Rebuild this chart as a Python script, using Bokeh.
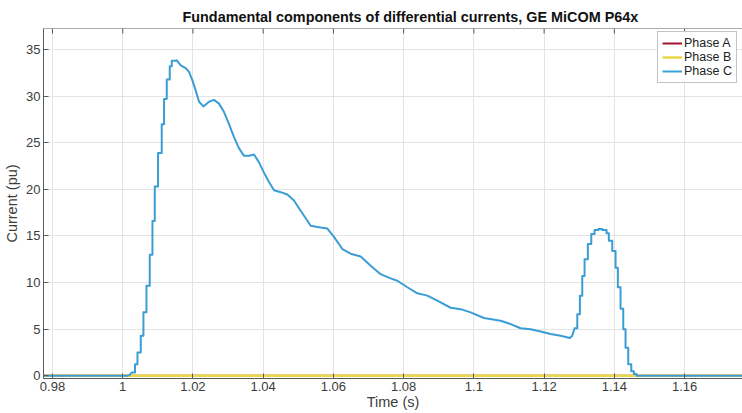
from bokeh.plotting import figure
from bokeh.models import Range1d, FixedTicker, LinearAxis, Legend, LegendItem, Grid
from bokeh.embed import file_html
from bokeh.resources import INLINE

# ---- data -------------------------------------------------------------
# Phase A and phase B fundamentals stay at zero for the whole record
t_ab = [0.970, 1.190]
i_a = [0.0, 0.0]
i_b = [0.0, 0.0]

# Phase C: quiet pre-fault part
t_c_pre = [0.970, 1.00135, 1.00200, 1.00240]
i_c_pre = [0.0, 0.0, 0.1, 0.3]

# Phase C: first rise, held relay samples
t_c_rise = [1.00257, 1.00351, 1.00420, 1.00514, 1.00590, 1.00676, 1.00770,
            1.00847, 1.00912, 1.01006, 1.01111, 1.01177, 1.01254, 1.01339,
            1.01396]
i_c_rise = [0.36, 1.25, 2.51, 4.30, 6.81, 9.67, 13.0,
            16.6, 20.3, 23.9, 27.0, 29.7, 31.8, 33.2,
            33.8]

# Phase C: decaying part
t_c_decay = [1.01538, 1.01652, 1.01794, 1.01888, 1.01985, 1.02079, 1.02173,
             1.02298, 1.02458, 1.02600, 1.02742, 1.02885, 1.03027, 1.03169,
             1.03312, 1.03454, 1.03596, 1.03739, 1.03881, 1.04023, 1.04166,
             1.04308, 1.04499, 1.04689, 1.04877, 1.05068, 1.05353, 1.05637,
             1.05828, 1.06016, 1.06255, 1.06491, 1.06776, 1.07061, 1.07345,
             1.07630, 1.07821, 1.08105, 1.08390, 1.08675, 1.08959, 1.09338,
             1.09623, 1.09907, 1.10286, 1.10761, 1.11046, 1.11331, 1.11615,
             1.11900, 1.12184, 1.12469, 1.12734, 1.12802]
i_c_decay = [33.85, 33.3, 33.0, 32.6, 31.7, 30.6, 29.4,
             28.9, 29.4, 29.6, 29.2, 28.3, 27.0, 25.6,
             24.4, 23.6, 23.6, 23.75, 22.9, 21.8, 20.8,
             19.9, 19.7, 19.45, 18.8, 17.7, 16.1, 15.9,
             15.8, 14.9, 13.6, 13.1, 12.8, 11.8, 10.9,
             10.45, 10.2, 9.5, 8.85, 8.6, 8.06, 7.3,
             7.15, 6.8, 6.2, 5.9, 5.55, 5.1, 5.0,
             4.76, 4.48, 4.3, 4.05, 4.3]

# Phase C: second hump, held relay samples
t_c_hump = [1.12868, 1.12945, 1.13019, 1.13087, 1.13152, 1.13246, 1.13343,
            1.13437, 1.13546, 1.13656, 1.13779, 1.13844, 1.13941, 1.14035,
            1.14100, 1.14177, 1.14254, 1.14319, 1.14396, 1.14482, 1.14556,
            1.14633]
i_c_hump = [5.1, 6.6, 8.6, 10.7, 12.5, 14.15, 15.2,
            15.65, 15.75, 15.65, 15.3, 14.5, 13.4, 11.6,
            9.5, 7.2, 5.0, 3.0, 1.25, 0.5, 0.2,
            0.0]
t_end = 1.190

x_ticks = [0.98, 1.0, 1.02, 1.04, 1.06, 1.08, 1.1, 1.12, 1.14, 1.16, 1.18]
x_tick_labels = ["0.98", "1", "1.02", "1.04", "1.06", "1.08", "1.1", "1.12",
                 "1.14", "1.16", "1.18"]
y_ticks = [0, 5, 10, 15, 20, 25, 30, 35]

X_MIN, X_MAX = 0.97744, 1.1765
Y_MIN, Y_MAX = -0.29, 37.26


def hold(ts, vs, t_next):
    """Zero-order hold: each sample is kept until the next one."""
    xs, ys = [], []
    for k, (t, v) in enumerate(zip(ts, vs)):
        nxt = ts[k + 1] if k + 1 < len(ts) else t_next
        xs += [t, nxt]
        ys += [v, v]
    return xs, ys


rx, ry = hold(t_c_rise, i_c_rise, t_c_decay[0])
hx, hy = hold(t_c_hump, i_c_hump, t_end)
t_c = t_c_pre + rx + t_c_decay + hx
i_c = i_c_pre + ry + i_c_decay + hy

# ---- figure -----------------------------------------------------------
FONT = "Liberation Sans"
TXT = "#3c3c3c"
AXC = "#5a5a5a"

p = figure(width=742, height=413, output_backend="svg", toolbar_location=None,
           x_range=Range1d(X_MIN, X_MAX), y_range=Range1d(Y_MIN, Y_MAX),
           min_border_left=43, min_border_right=0, min_border_top=28,
           min_border_bottom=35, x_axis_location=None, y_axis_location=None,
           background_fill_color="white", border_fill_color="white")
p.outline_line_color = None

p.title.text = "Fundamental components of differential currents, GE MiCOM P64x"
p.title.text_font = FONT
p.title.text_font_style = "bold"
p.title.text_font_size = "14.4px"
p.title.text_color = "#111111"
p.title.align = "left"
p.title.offset = 139
p.title.standoff = 8

xaxis = LinearAxis(ticker=FixedTicker(ticks=x_ticks), axis_label="Time (s)")
xaxis.major_label_overrides = dict(zip(x_ticks, x_tick_labels))
yaxis = LinearAxis(ticker=FixedTicker(ticks=y_ticks), axis_label="Current (pu)")

for ax in (xaxis, yaxis):
    ax.axis_line_color = AXC
    ax.major_tick_line_color = AXC
    ax.major_tick_in = 5
    ax.major_tick_out = 0
    ax.minor_tick_line_color = None
    ax.major_label_text_font = FONT
    ax.major_label_text_font_size = "13px"
    ax.major_label_text_color = TXT
    ax.axis_label_text_font = FONT
    ax.axis_label_text_font_size = "14.5px"
    ax.axis_label_text_font_style = "normal"
    ax.axis_label_text_color = TXT

xaxis.major_label_standoff = 3
xaxis.axis_label_standoff = 0
yaxis.major_label_standoff = 3
yaxis.axis_label_standoff = 3

p.add_layout(xaxis, "below")
p.add_layout(yaxis, "left")

p.grid.visible = False
p.add_layout(Grid(dimension=0, ticker=xaxis.ticker, grid_line_color="#e4e4e4"))
p.add_layout(Grid(dimension=1, ticker=yaxis.ticker, grid_line_color="#e4e4e4"))

# box: top edge with inward ticks
tick_len = 0.55
p.line([X_MIN, X_MAX], [Y_MAX, Y_MAX], line_color=AXC, line_width=1)
p.segment(x0=x_ticks, y0=[Y_MAX] * len(x_ticks), x1=x_ticks,
          y1=[Y_MAX - tick_len] * len(x_ticks), line_color=AXC, line_width=1)

ra = p.line(t_ab, i_a, line_color="#a2142f", line_width=2)
rb = p.line(t_ab, i_b, line_color="#e8d84a", line_width=2.5)
rc = p.line(t_c, i_c, line_color="#3b9dd5", line_width=2,
            line_join="round")

legend = Legend(items=[LegendItem(label="Phase A", renderers=[ra]),
                       LegendItem(label="Phase B", renderers=[rb]),
                       LegendItem(label="Phase C", renderers=[rc])],
                location=(614, 295))
legend.label_text_font = FONT
legend.label_text_font_size = "12.5px"
legend.label_text_color = "#222222"
legend.glyph_width = 20
legend.glyph_height = 14
legend.label_height = 14
legend.label_standoff = 2
legend.spacing = 0
legend.padding = 4
legend.margin = 0
legend.border_line_color = "#888888"
legend.background_fill_alpha = 1.0
p.add_layout(legend, "center")

open("out.html", "w").write(file_html(p, INLINE))
